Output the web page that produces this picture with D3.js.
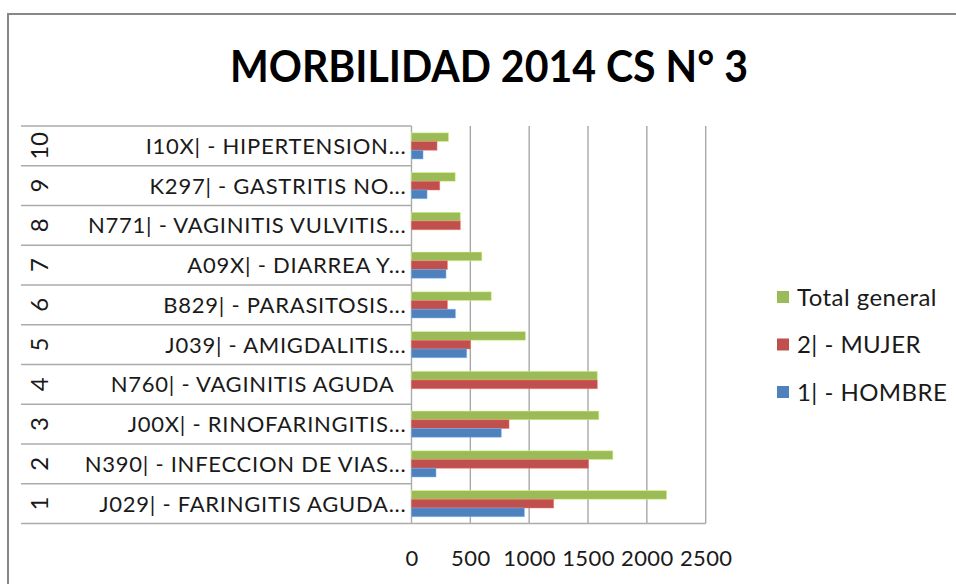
<!DOCTYPE html>
<html>
<head>
<meta charset="utf-8">
<script src="https://cdn.jsdelivr.net/npm/d3@7"></script>
<style>
  body { margin: 0; background: #fff; }
  svg { display: block; font-family: Lato, "Open Sans", sans-serif; }
</style>
</head>
<body>
<div id="chart"></div>
<script>
// rank numbers (bottom to top) and the diagnosis labels
const ranks = ["1", "2", "3", "4", "5", "6", "7", "8", "9", "10"];
const diagnoses = [
  "J029| - FARINGITIS AGUDA...",
  "N390| - INFECCION DE VIAS...",
  "J00X| - RINOFARINGITIS...",
  "N760| - VAGINITIS AGUDA  ",
  "J039| - AMIGDALITIS...",
  "B829| - PARASITOSIS...",
  "A09X| - DIARREA Y...",
  "N771| - VAGINITIS VULVITIS...",
  "K297| - GASTRITIS NO...",
  "I10X| - HIPERTENSION..."
];
const hombre = [959, 208, 763, 0, 469, 373, 293, 0, 132, 98];
const mujer = [1208, 1503, 829, 1579, 500, 305, 305, 415, 240, 217];
const totalGeneral = [2168, 1711, 1592, 1579, 969, 678, 598, 415, 372, 315];
const seriesNames = ["Total general", "2| - MUJER", "1| - HOMBRE"];
const seriesColors = ["#9BBB59", "#C0504D", "#4F81BD"];
const xTicks = [0, 500, 1000, 1500, 2000, 2500];

const width = 956, height = 584;
const plot = {left: 411.5, right: 705.7, top: 126, bottom: 523.5};

const svg = d3.select("#chart").append("svg")
    .attr("width", width)
    .attr("height", height);

// chart frame
svg.append("rect")
    .attr("x", 8).attr("y", 14)
    .attr("width", 980).attr("height", 620)
    .attr("fill", "#fff")
    .attr("stroke", "#878787")
    .attr("stroke-width", 2);

svg.append("text")
    .attr("x", 489).attr("y", 82)
    .attr("text-anchor", "middle")
    .style("font-size", "44px")
    .style("font-weight", 700)
    .attr("textLength", 518)
    .attr("lengthAdjust", "spacingAndGlyphs")
    .attr("fill", "#000")
    .text("MORBILIDAD 2014 CS N° 3");

let x = d3.scaleLinear()
    .domain([0, 2500])
    .range([plot.left, plot.right]);

let y = d3.scaleBand()
    .domain(ranks)
    .range([plot.bottom, plot.top]);

let inner = d3.scaleBand()
    .domain(seriesNames)
    .range([0, y.bandwidth()])
    .paddingOuter(0.78);

// vertical gridlines
svg.append("g")
    .selectAll("line")
    .data(xTicks.slice(1))
    .enter()
    .append("line")
    .attr("x1", d => x(d)).attr("x2", d => x(d))
    .attr("y1", plot.top).attr("y2", plot.bottom)
    .attr("stroke", "#A8A8A8")
    .attr("stroke-width", 1.4);

// category table lines
let lineYs = ranks.map(r => y(r)).concat([plot.bottom]);
svg.append("g")
    .selectAll("line")
    .data(lineYs)
    .enter()
    .append("line")
    .attr("x1", 21).attr("x2", d => d === plot.bottom ? plot.right : plot.left)
    .attr("y1", d => d).attr("y2", d => d)
    .attr("stroke", "#ABABAB")
    .attr("stroke-width", 1.4);

svg.append("line")
    .attr("x1", plot.left).attr("x2", plot.left)
    .attr("y1", plot.top).attr("y2", plot.bottom)
    .attr("stroke", "#ABABAB")
    .attr("stroke-width", 1.4);

// bars
let rows = ranks.map((r, i) => ({
    rank: r,
    values: [totalGeneral[i], mujer[i], hombre[i]]
}));

let groups = svg.append("g")
    .selectAll("g")
    .data(rows)
    .enter()
    .append("g")
    .attr("transform", d => "translate(0," + y(d.rank) + ")");

groups.selectAll("rect")
    .data(d => d.values.map((v, k) => ({name: seriesNames[k], value: v, color: seriesColors[k]})))
    .enter()
    .filter(d => d.value > 0)
    .append("rect")
    .attr("x", x(0))
    .attr("y", d => inner(d.name))
    .attr("width", d => x(d.value) - x(0))
    .attr("height", inner.bandwidth())
    .attr("fill", d => d.color)
    .attr("stroke", d => d3.color(d.color).brighter(0.9))
    .attr("stroke-opacity", 0.6)
    .attr("stroke-width", 0.8);

// category labels
svg.append("g")
    .selectAll("text")
    .data(ranks)
    .enter()
    .append("text")
    .attr("x", 406.5)
    .attr("y", d => y(d) + y.bandwidth() / 2 + 8)
    .attr("text-anchor", "end")
    .style("font-size", "22px")
    .style("letter-spacing", "0.75px")
    .style("white-space", "pre")
    .attr("fill", "#1a1a1a")
    .text((d, i) => diagnoses[i]);

// rank numbers, rotated
svg.append("g")
    .selectAll("text")
    .data(ranks)
    .enter()
    .append("text")
    .attr("transform", d => "translate(48," + (y(d) + y.bandwidth() / 2) + ") rotate(-90)")
    .attr("text-anchor", "middle")
    .style("font-size", "24px")
    .attr("fill", "#1a1a1a")
    .text(d => d);

// value axis
let xAxis = d3.axisBottom(x)
    .tickValues(xTicks)
    .tickSize(0)
    .tickPadding(27)
    .tickFormat(d3.format("d"));

let gx = svg.append("g")
    .attr("transform", "translate(0," + plot.bottom + ")")
    .call(xAxis);
gx.select(".domain").remove();
gx.selectAll("text")
    .style("font-size", "22px")
    .style("letter-spacing", "0.4px")
    .style("font-family", "Lato, sans-serif")
    .attr("fill", "#1a1a1a");

// legend
let legend = svg.append("g")
    .selectAll("g")
    .data(seriesNames)
    .enter()
    .append("g")
    .attr("transform", (d, i) => "translate(777," + (297 + i * 47.5) + ")");

legend.append("rect")
    .attr("x", 0).attr("y", -6)
    .attr("width", 12).attr("height", 12)
    .attr("fill", (d, i) => seriesColors[i]);

legend.append("text")
    .attr("x", 20).attr("y", 8.5)
    .style("font-size", "24px")
    .style("letter-spacing", "0.45px")
    .attr("fill", "#1a1a1a")
    .text(d => d);
</script>
</body>
</html>
